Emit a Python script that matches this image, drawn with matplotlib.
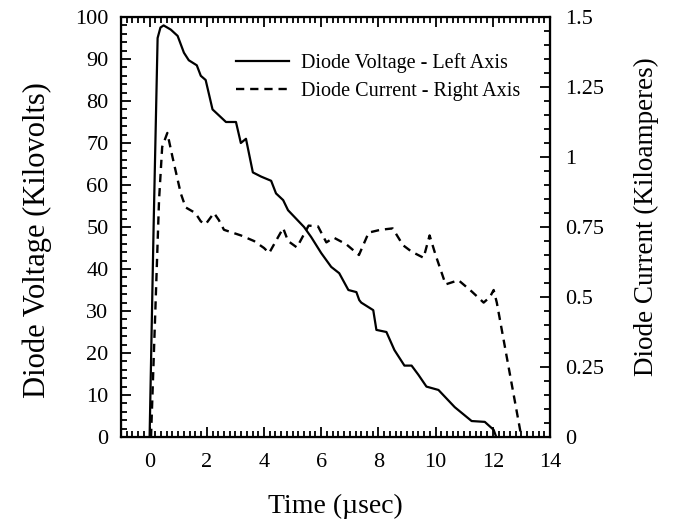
import matplotlib
matplotlib.use('Agg')
import matplotlib.pyplot as plt
from matplotlib.ticker import MultipleLocator, FuncFormatter

plt.rcParams['font.family'] = ['Liberation Serif', 'DejaVu Serif']

# diode voltage (kV) vs time (usec) - left axis
time_v = [0.0, 0.14, 0.28, 0.38, 0.49, 0.74, 0.98, 1.2, 1.37, 1.65, 1.79, 1.96, 2.2, 2.42, 2.67,
          3.02, 3.19, 3.37, 3.61, 3.9, 4.25, 4.42, 4.67, 4.84, 5.12, 5.4, 5.65, 6.0, 6.35, 6.63,
          6.95, 7.23, 7.33, 7.4, 7.82, 7.93, 8.28, 8.56, 8.91, 9.16, 9.4, 9.68, 10.1, 10.67, 11.26,
          11.72, 12.03, 12.12]
voltage = [0, 50, 95, 97.5, 98, 97, 95.5, 91.5, 89.7, 88.5, 86, 85, 78, 76.6, 75,
           75, 70, 71, 63, 62, 61, 58, 56.4, 54, 52, 50, 47.6, 43.8, 40.5, 39,
           35, 34.5, 32.6, 32, 30.2, 25.5, 25, 20.7, 17, 17, 14.8, 12, 11.2, 7.1, 3.8,
           3.6, 1.7, 0]

# diode current (kA) vs time (usec) - right axis
time_i = [0.05, 0.2, 0.33, 0.44, 0.62, 0.8, 1.09, 1.26, 1.6, 1.79, 1.96, 2.25, 2.42, 2.6, 3.19,
          3.65, 4.0, 4.18, 4.67, 4.84, 5.15, 5.56, 5.89, 6.18, 6.44, 6.88, 7.32, 7.66, 8.07, 8.5,
          8.86, 9.16, 9.58, 9.79, 10.0, 10.35, 10.8, 11.26, 11.68, 11.9, 12.03, 12.14, 13.0]
current = [0, 0.45, 0.846, 1.036, 1.086, 1.0, 0.87, 0.82, 0.80, 0.77, 0.76, 0.80, 0.775, 0.74, 0.72,
           0.70, 0.675, 0.657, 0.746, 0.70, 0.677, 0.755, 0.752, 0.695, 0.712, 0.688, 0.65, 0.73, 0.74, 0.745,
           0.685, 0.662, 0.64, 0.72, 0.65, 0.545, 0.56, 0.52, 0.48, 0.50, 0.525, 0.48, 0.0]

fig = plt.figure(figsize=(6.73, 5.22), dpi=100)
ax = fig.add_axes([121/673, 1 - 437/522, 429/673, 420/522])
ax2 = ax.twinx()

l1, = ax.plot(time_v, voltage, color='black', lw=1.6, label='Diode Voltage - Left Axis')
l2, = ax2.plot(time_i, current, color='black', lw=1.7, linestyle=(0, (3.5, 2.5)),
               label='Diode Current - Right Axis')

ax.set_xlim(-1, 14)
ax.set_ylim(0, 100)
ax2.set_ylim(0, 1.5)

ax.xaxis.set_major_locator(MultipleLocator(2))
ax.xaxis.set_minor_locator(MultipleLocator(0.2))
ax.yaxis.set_major_locator(MultipleLocator(10))
ax.yaxis.set_minor_locator(MultipleLocator(2))
ax2.yaxis.set_major_locator(MultipleLocator(0.25))
ax2.yaxis.set_minor_locator(MultipleLocator(0.05))
ax2.yaxis.set_major_formatter(FuncFormatter(lambda v, p: '%g' % v))

ax.tick_params(which='both', direction='in', top=True, right=False, labelsize=16, width=1.3)
ax.tick_params(which='major', length=7)
ax.tick_params(which='minor', length=4)
ax.tick_params(axis='y', pad=9)
ax.tick_params(axis='x', pad=11.5)
ax2.tick_params(which='both', direction='in', labelsize=16, width=1.3, pad=11)
ax2.tick_params(which='major', length=7)
ax2.tick_params(which='minor', length=4)

for sp in ax.spines.values():
    sp.set_linewidth(1.6)

ax.set_xlabel('Time (µsec)', fontsize=20, labelpad=16)
ax.set_ylabel('Diode Voltage (Kilovolts)', fontsize=22)
ax2.set_ylabel('Diode Current (Kiloamperes)', fontsize=19.5)
ax.yaxis.set_label_coords(-0.161, 0.469)
ax2.yaxis.set_label_coords(1.196, 0.524)

ax.legend(handles=[l1, l2], loc='upper right', bbox_to_anchor=(0.93, 0.915), frameon=False,
          fontsize=14.5, handlelength=2.6, handletextpad=0.6, labelspacing=0.45,
          borderpad=0, borderaxespad=0)

fig.savefig('out.png', dpi=100)
